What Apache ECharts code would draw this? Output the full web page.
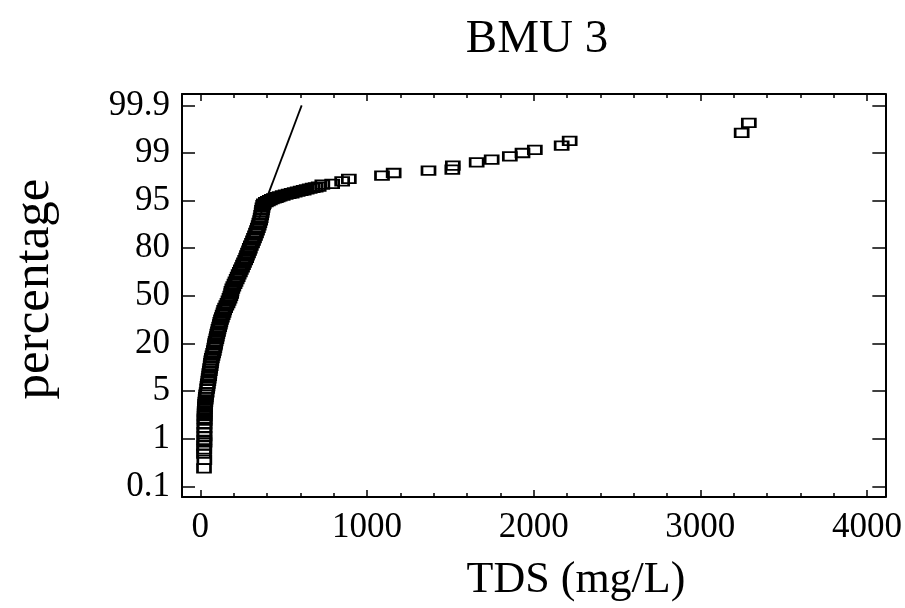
<!DOCTYPE html>
<html>
<head>
<meta charset="utf-8">
<script src="https://cdn.jsdelivr.net/npm/echarts@6/dist/echarts.min.js"></script>
<style>
html,body{margin:0;padding:0;background:#fff;}
#chart{width:905px;height:608px;}
</style>
</head>
<body>
<div id="chart"></div>
<script>
// ---- data ----
const titleText = 'BMU 3';
const xTitle = 'TDS (mg/L)';
const yTitle = 'percentage';
const yTickLabels = ['0.1', '1', '5', '20', '50', '80', '95', '99', '99.9'];
const yTickPercents = [0.1, 1, 5, 20, 50, 80, 95, 99, 99.9];
const xMajorTicks = [0, 1000, 2000, 3000, 4000];
const xMinorTicks = [200, 400, 600, 800, 1200, 1400, 1600, 1800, 2200, 2400, 2600, 2800, 3200, 3400, 3600, 3800];

// TDS (mg/L) of each sample, sorted
const tds = [
  22, 24, 22, 24, 23, 25, 24, 25, 24, 25, 25, 26,
  25, 26, 26, 26, 27, 28, 29, 30, 32, 33, 35, 38,
  41, 43, 45, 48, 50, 53, 54, 57, 59, 62, 64, 66, 69, 73, 77, 81, 84, 87, 89,
  92, 96, 99, 102, 106, 109, 113, 117, 120, 124, 129, 134, 139, 143, 149, 156, 163, 169, 175, 180,
  185, 187, 192, 198, 205, 211, 218, 224, 230, 237, 243, 250, 256, 262, 269, 275, 280, 286, 292, 297,
  303, 310, 316, 322, 328, 334, 340, 345, 350, 354, 359, 362, 365, 368, 370, 373, 377,
  381, 393, 405, 417, 429, 441, 453, 464, 476, 494, 512, 530, 548, 566, 584, 602, 620, 638, 656, 674, 692, 710,
  732, 791, 851, 891, 1090, 1160, 1369, 1512, 1515, 1658, 1748, 1857, 1933, 2007, 2168, 2216, 3248, 3291
];
// cumulative percentage of each sample
const pct = [
  0.44, 0.60, 0.72, 0.80, 0.87, 0.93, 0.98, 1.22, 1.55, 1.89, 2.22, 2.52,
  2.7, 2.9, 3.1, 3.3, 3.5, 3.7, 3.9, 4.1, 4.3, 4.5, 4.7, 4.9,
  5.8, 6.6, 7.4, 8.2, 9.0, 9.8, 10.6, 11.4, 12.2, 13.0, 13.8, 14.6, 15.4, 16.2, 17.0, 17.8, 18.6, 19.4, 20.0,
  21.5, 23, 24.5, 26, 27.5, 29, 30.5, 32, 33.5, 35, 36.5, 38, 39.5, 41, 42.5, 44, 45.5, 47, 48.5, 50,
  51.5, 53, 54.5, 56, 57.5, 59, 60.5, 62, 63.5, 65, 66.5, 68, 69.5, 71, 72.5, 74, 75.5, 77, 78.5, 80,
  80.8, 81.6, 82.4, 83.2, 84, 84.8, 85.6, 86.4, 87.2, 88, 88.8, 89.6, 90.4, 91.2, 92, 92.8, 93.6,
  94.03, 94.50, 94.82, 95.04, 95.12, 95.19, 95.24, 95.30, 95.36, 95.43, 95.50, 95.56, 95.62, 95.69, 95.75, 95.82, 95.87, 95.94, 96.00, 96.07, 96.12, 96.18,
  96.34, 96.40, 96.62, 96.82, 97.09, 97.32, 97.51, 97.60, 97.93, 98.21, 98.44, 98.71, 99.00, 99.06, 99.14, 99.23, 99.38, 99.57
];
// fitted line
const fitTds = [350, 608];
const fitPct = [89.0, 99.9];

// probability scale: tick labels equally spaced, linear between ticks
function probPos(p) {
  const T = yTickPercents;
  let i = 0;
  if (p <= T[0]) i = 0;
  else if (p >= T[T.length - 1]) i = T.length - 2;
  else { while (i < T.length - 2 && p > T[i + 1]) i++; }
  return i + (p - T[i]) / (T[i + 1] - T[i]);
}

const FONT = '"Liberation Serif","Times New Roman",serif';
const chart = echarts.init(document.getElementById('chart'), null, {renderer: 'canvas'});

const gridL = 182, gridT = 94, gridW = 705, gridH = 403;
const xMin = -110, xMax = 4110;
const yMin = -0.2226, yMax = 8.2385;

function xAxisBase(pos, ticks, len, showLine, showLabel) {
  return {
    type: 'value', position: pos, min: xMin, max: xMax,
    axisLine: {show: showLine, onZero: false, lineStyle: {color: '#000', width: 2}},
    axisTick: {show: true, inside: true, length: len, customValues: ticks, lineStyle: {color: '#000', width: 1.5}},
    axisLabel: showLabel ? {show: true, customValues: xMajorTicks, margin: 13, color: '#000', fontFamily: FONT, fontSize: 35,
      formatter: v => String(Math.round(v))} : {show: false},
    splitLine: {show: false}
  };
}
function yAxisBase(pos, showLabel) {
  return {
    type: 'value', position: pos, min: yMin, max: yMax,
    axisLine: {show: true, onZero: false, lineStyle: {color: '#000', width: 2}},
    axisTick: {show: true, inside: true, length: 13, customValues: yTickLabels.map((_, i) => i), lineStyle: {color: '#000', width: 1.5}},
    axisLabel: showLabel ? {
      show: true, customValues: yTickLabels.map((_, i) => i), margin: 12, color: '#000', fontFamily: FONT, fontSize: 35,
      formatter: v => yTickLabels[Math.round(v)]
    } : {show: false},
    splitLine: {show: false}
  };
}

const option = {
  animation: false,
  backgroundColor: '#fff',
  grid: {left: gridL, top: gridT, width: gridW, height: gridH, containLabel: false},
  xAxis: [
    xAxisBase('bottom', xMajorTicks, 7, true, true),
    xAxisBase('bottom', xMinorTicks, 4, false, false),
    xAxisBase('top', xMajorTicks, 7, true, false),
    xAxisBase('top', xMinorTicks, 4, false, false)
  ],
  yAxis: [
    yAxisBase('left', true),
    yAxisBase('right', false)
  ],
  graphic: [
    {type: 'text', x: 537, y: 40, silent: true,
     style: {text: titleText, font: '47px ' + FONT, fill: '#000', textAlign: 'center', textVerticalAlign: 'middle'}},
    {type: 'text', x: 576, y: 580, silent: true,
     style: {text: xTitle, font: '44px ' + FONT, fill: '#000', textAlign: 'center', textVerticalAlign: 'middle'}},
    {type: 'text', x: 35, y: 289, rotation: Math.PI / 2, silent: true,
     style: {text: yTitle, font: '51px ' + FONT, fill: '#000', textAlign: 'center', textVerticalAlign: 'middle'}}
  ],
  series: [
    {
      type: 'scatter', xAxisIndex: 0, yAxisIndex: 0, silent: true,
      symbol: 'rect', symbolSize: [13, 8.5],
      itemStyle: {color: 'rgba(0,0,0,0)', borderColor: '#000', borderWidth: 2.2, opacity: 1},
      data: tds.map((t, i) => [t, probPos(pct[i])])
    },
    {
      type: 'line', xAxisIndex: 0, yAxisIndex: 0, silent: true,
      symbol: 'none', lineStyle: {color: '#000', width: 1.8},
      data: fitTds.map((t, i) => [t, probPos(fitPct[i])])
    }
  ]
};
chart.setOption(option);
</script>
</body>
</html>
